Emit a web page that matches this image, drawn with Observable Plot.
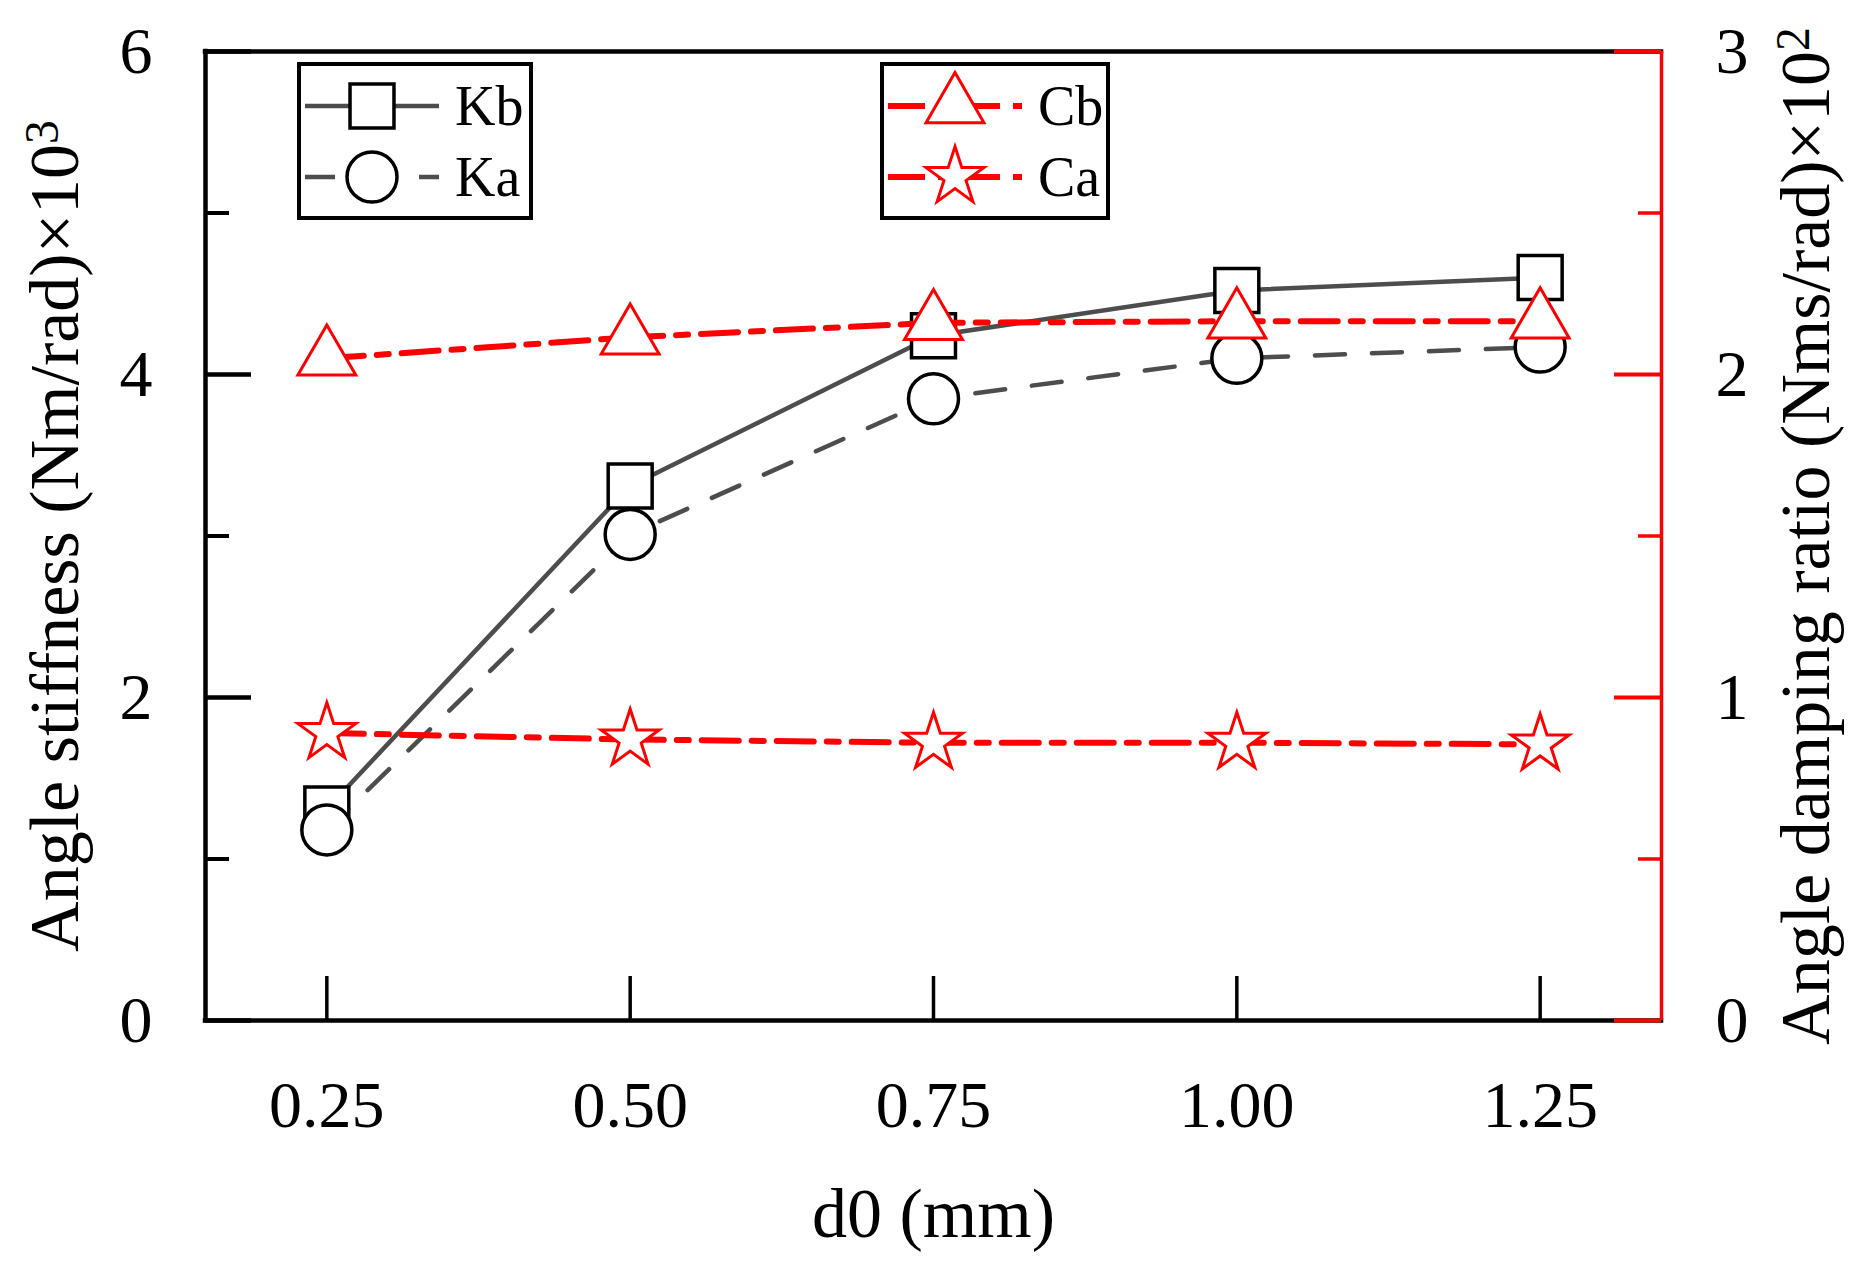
<!DOCTYPE html>
<html>
<head>
<meta charset="utf-8">
<script src="https://cdn.jsdelivr.net/npm/d3@7"></script>
<script src="https://cdn.jsdelivr.net/npm/@observablehq/plot@0.6"></script>
<style>
  body { margin: 0; background: #fff; }
  #chart svg { display: block; }
</style>
</head>
<body>
<div id="chart"></div>
<script>
// d0 (mm) on the x axis
const d0 = [0.25, 0.50, 0.75, 1.00, 1.25];
// angle stiffness, Nm/rad x10^3 (left axis)
const kb = [1.31, 3.31, 4.24, 4.52, 4.60];
const ka = [1.18, 3.01, 3.85, 4.10, 4.17];
// angle damping ratio, Nms/rad x10^2 (right axis)
const cb = [2.05, 2.115, 2.16, 2.165, 2.165];
const ca = [0.89, 0.87, 0.86, 0.86, 0.855];

const xDomain = [0.15, 1.35];
const leftMajor = [0, 2, 4, 6];
const leftMinor = [1, 3, 5];
const rightMajor = [0, 1, 2, 3];
const rightMinor = [0.5, 1.5, 2.5];

// right axis max is 3 where the left is 6
const cFactor = 6 / 3;

const rows = d0.map((x, i) => ({x, kb: kb[i], ka: ka[i], cb: cb[i], ca: ca[i]}));

// axis titles, the exponent is added as a superscript afterwards
const titles = [
  {text: "Angle stiffness (Nm/rad)×10", sup: "3"},
  {text: "Angle damping ratio (Nms/rad)×10", sup: "2"}
];

const font = "'Liberation Serif', 'Times New Roman', serif";
const gray = "#4d4d4d";
const red = "#ff0000";
const W = 1874, H = 1271;
const mTop = 51, mLeft = 205, mRight = 213, mBottom = 251;
const fw = W - mLeft - mRight, fh = H - mTop - mBottom;

const chart = Plot.plot({
  width: W,
  height: H,
  marginTop: mTop,
  marginLeft: mLeft,
  marginRight: mRight,
  marginBottom: mBottom,
  style: {fontFamily: font, background: "#fff", color: "#000"},
  x: {domain: xDomain},
  y: {domain: [0, 6]},
  marks: [
    // frame
    Plot.ruleY([0, 6], {stroke: "#000", strokeWidth: 4.5, strokeLinecap: "square"}),
    Plot.ruleX([xDomain[0]], {stroke: "#000", strokeWidth: 4.5, strokeLinecap: "square"}),
    Plot.ruleX([xDomain[1]], {stroke: red, strokeWidth: 3.5}),

    // inward ticks
    Plot.tickY(leftMajor, {y: d => d, stroke: "#000", strokeWidth: 4.5, insetRight: fw - 46}),
    Plot.tickY(leftMinor, {y: d => d, stroke: "#000", strokeWidth: 4, insetRight: fw - 24}),
    Plot.tickY(rightMajor, {y: d => d * cFactor, stroke: red, strokeWidth: 4, insetLeft: fw - 47}),
    Plot.tickY(rightMinor, {y: d => d * cFactor, stroke: red, strokeWidth: 3.5, insetLeft: fw - 23}),
    Plot.tickX(d0, {x: d => d, stroke: "#000", strokeWidth: 3.5, insetTop: fh - 44}),

    // tick labels
    Plot.axisX(d0, {tickSize: 0, tickPadding: 60, fontSize: 66, tickFormat: d3.format(".2f"), label: null}),
    Plot.axisY(leftMajor, {anchor: "left", tickSize: 0, tickPadding: 53, fontSize: 66,
      tickFormat: d3.format("d"), label: null}),
    Plot.axisY(rightMajor.map(d => d * cFactor), {anchor: "right", tickSize: 0, tickPadding: 54, fontSize: 66,
      tickFormat: d => d3.format("d")(d / cFactor), label: null}),

    // axis titles
    Plot.text([titles[0]], {text: "text", frameAnchor: "left", dx: -150, rotate: -90,
      fontSize: 70, lineAnchor: "middle", textAnchor: "middle", fill: "#000"}),
    Plot.text([titles[1]], {text: "text", frameAnchor: "right", dx: 145, rotate: -90,
      fontSize: 70, lineAnchor: "middle", textAnchor: "middle", fill: "#000"}),
    Plot.text(["d0 (mm)"], {text: d => d, frameAnchor: "bottom", dy: 194, fontSize: 70,
      lineAnchor: "middle", textAnchor: "middle", fill: "#000"}),

    // stiffness series
    Plot.line(rows, {x: "x", y: "kb", stroke: gray, strokeWidth: 4.5}),
    Plot.line(rows, {x: "x", y: "ka", stroke: gray, strokeWidth: 4.5, strokeDasharray: "30,27"}),
    Plot.dot(rows, {x: "x", y: "kb", symbol: "square", r: 24.8, stroke: "#000", strokeWidth: 3.5, fill: "#fff"}),
    Plot.dot(rows, {x: "x", y: "ka", symbol: "circle", r: 25, stroke: "#000", strokeWidth: 3.5, fill: "#fff"}),

    // damping series
    Plot.line(rows, {x: "x", y: d => d.cb * cFactor, stroke: red, strokeWidth: 6, strokeDasharray: "37,13,12,13"}),
    Plot.line(rows, {x: "x", y: d => d.ca * cFactor, stroke: red, strokeWidth: 6, strokeDasharray: "37,13,12,13"}),
    Plot.dot(rows, {x: "x", y: d => d.cb * cFactor, symbol: "triangle", r: 21.5, stroke: red, strokeWidth: 3, fill: "#fff"}),
    Plot.dot(rows, {x: "x", y: d => d.ca * cFactor, symbol: "star", r: 18.2, stroke: red, strokeWidth: 3, fill: "#fff"})
  ]
});

const svg = d3.select(chart);

// superscripts on the axis titles
svg.selectAll("text").each(function () {
  const t = titles.find(d => d.text === this.textContent);
  if (t) {
    d3.select(this).append("tspan").attr("dy", "-0.42em").attr("font-size", "0.68em").text(t.sup);
  }
});

// legends (two boxed groups in the upper part of the frame)
const legendItems = [
  {label: "Kb", box: 0, row: 0, symbol: d3.symbolSquare, r: 24.8, mark: "#000", line: gray, lw: 4.5, dash: null},
  {label: "Ka", box: 0, row: 1, symbol: d3.symbolCircle, r: 25, mark: "#000", line: gray, lw: 4.5, dash: "30,27"},
  {label: "Cb", box: 1, row: 0, symbol: d3.symbolTriangle, r: 21.5, mark: red, line: red, lw: 6, dash: "37,13,12,13"},
  {label: "Ca", box: 1, row: 1, symbol: d3.symbolStar, r: 18.2, mark: red, line: red, lw: 6, dash: "37,13,12,13"}
];
const boxes = [{x: 299, y: 64, w: 232, h: 154}, {x: 882, y: 64, w: 226, h: 154}];
const rowY = [106, 177];

const lg = svg.append("g").attr("font-family", font).attr("text-anchor", "start");
boxes.forEach(b => {
  lg.append("rect").attr("x", b.x).attr("y", b.y).attr("width", b.w).attr("height", b.h)
    .attr("fill", "#fff").attr("stroke", "#000").attr("stroke-width", 4);
});
legendItems.forEach(it => {
  const b = boxes[it.box];
  const y = rowY[it.row];
  const x0 = b.x + 6, x1 = b.x + 140, xm = b.x + 73;
  lg.append("line").attr("x1", x0).attr("x2", x1).attr("y1", y).attr("y2", y)
    .attr("stroke", it.line).attr("stroke-width", it.lw).attr("stroke-dasharray", it.dash);
  lg.append("path").attr("transform", `translate(${xm},${y})`)
    .attr("d", d3.symbol(it.symbol, Math.PI * it.r * it.r)())
    .attr("fill", "#fff").attr("stroke", it.mark).attr("stroke-width", it.mark === red ? 3 : 3.5);
  lg.append("text").attr("x", b.x + 156).attr("y", y + 19).attr("font-size", 56).attr("fill", "#000")
    .text(it.label);
});

d3.select("#chart").append(() => chart);
</script>
</body>
</html>
